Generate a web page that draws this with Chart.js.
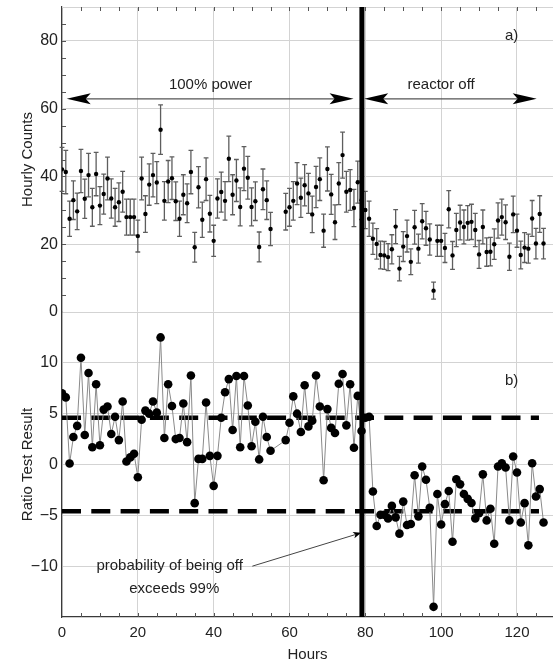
<!DOCTYPE html>
<html>
<head>
<meta charset="utf-8">
<script src="https://cdn.jsdelivr.net/npm/chart.js@4.4.1/dist/chart.umd.min.js"></script>
<style>
  html, body { margin: 0; padding: 0; background: #ffffff; }
  #wrap { width: 553px; height: 667px; }
</style>
</head>
<body>
<div id="wrap"><canvas id="c" width="553" height="667"></canvas></div>
<script>
// Hour index of each measurement
const hours = [
  0,1,2,3,4,5,6,7,8,9,10,11,12,13,14,15,16,17,18,19,
  20,21,22,23,24,25,26,27,28,29,30,31,32,33,34,35,36,37,38,39,
  40,41,42,43,44,45,46,47,48,49,50,51,52,53,54,55,56,57,58,59,
  60,61,62,63,64,65,66,67,68,69,70,71,72,73,74,75,76,77,78,79,
  80,81,82,83,84,85,86,87,88,89,90,91,92,93,94,95,96,97,98,99,
  100,101,102,103,104,105,106,107,108,109,110,111,112,113,114,115,116,117,118,119,
  120,121,122,123,124,125,126,127
];

// a) hourly counts (hours 56-58 missing)
const counts = [
  42.1,41.3,27.5,33.0,29.7,41.6,33.4,40.4,30.9,40.7,31.4,34.8,39.4,33.5,30.9,32.4,35.5,28.0,28.0,28.0,
  22.4,39.4,28.9,37.6,40.4,38.2,53.8,32.8,38.5,39.5,32.7,27.5,34.6,32.1,41.3,19.1,36.8,27.2,39.2,29.0,
  21.0,33.5,35.4,32.8,45.2,34.6,38.8,31.0,42.3,39.6,31.0,32.7,19.2,36.2,33.0,24.5,null,null,null,29.6,
  30.9,32.8,37.9,33.7,37.4,35.0,28.8,36.9,39.2,24.0,42.2,34.7,26.5,37.9,46.3,35.5,36.0,30.7,38.3,33.0,
  30.1,27.5,21.6,20.1,16.8,16.7,16.2,18.5,25.2,12.8,19.3,22.4,14.8,25.0,18.7,26.8,24.7,21.4,6.3,21.0,
  21.0,18.9,30.3,16.7,24.2,26.4,25.1,26.3,26.6,24.2,17.0,25.1,17.7,17.8,20.0,27.0,28.0,26.5,16.3,28.8,
  24.0,16.8,19.0,18.7,27.6,20.2,28.9,20.2
];

// a) half-length of each error bar
const countErr = [
  6.5,6.4,5.2,5.7,5.4,6.4,5.8,6.4,5.6,6.4,5.6,5.9,6.3,5.8,5.6,5.7,6.0,5.3,5.3,5.3,
  4.7,6.3,5.4,6.1,6.4,6.2,7.3,5.7,6.2,6.3,5.7,5.2,5.9,5.7,6.4,4.4,6.1,5.2,6.3,5.4,
  4.6,5.8,5.9,5.7,6.7,5.9,6.2,5.6,6.5,6.3,5.6,5.7,4.4,6.0,5.7,4.9,null,null,null,5.4,
  5.6,5.7,6.2,5.8,6.1,5.9,5.4,6.1,6.3,4.9,6.5,5.9,5.1,6.2,6.8,6.0,6.0,5.5,6.2,5.7,
  5.5,5.2,4.6,4.5,4.1,4.1,4.0,4.3,5.0,3.6,4.4,4.7,3.8,5.0,4.3,5.2,5.0,4.6,2.5,4.6,
  4.6,4.3,5.5,4.1,4.9,5.1,5.0,5.1,5.2,4.9,4.1,5.0,4.2,4.2,4.5,5.2,5.3,5.1,4.0,5.4,
  4.9,4.1,4.4,4.3,5.3,4.5,5.4,4.5
];

// b) ratio test result
const ratio = [
  7.0,6.6,0.1,2.7,3.8,10.5,2.9,9.0,1.7,7.9,1.9,5.4,5.7,3.0,4.7,2.4,6.2,0.3,0.7,1.05,
  -1.25,4.4,5.3,5.0,6.2,5.1,12.5,2.6,7.9,5.75,2.5,2.6,6.0,2.2,8.75,-3.8,0.55,0.55,6.1,0.85,
  -2.1,0.85,4.6,7.1,8.4,3.4,8.7,1.7,8.7,5.8,1.8,4.2,0.5,4.7,2.7,1.35,null,null,null,2.4,
  4.1,6.7,5.0,3.2,7.8,3.75,4.3,8.75,5.7,-1.55,5.45,3.6,3.1,7.95,8.9,3.85,7.9,1.65,6.75,3.3,
  4.6,4.7,-2.65,-6.05,-4.95,-4.95,-5.3,-4.07,-5.2,-6.8,-3.65,-5.95,-5.85,-1.05,-5.1,-0.2,-1.5,-4.25,-14.0,-2.9,
  -5.9,-3.9,-2.6,-7.6,-1.45,-1.95,-2.9,-3.38,-3.78,-5.3,-4.8,-0.97,-5.5,-4.35,-7.8,-0.2,0.12,-0.3,-5.5,0.78,
  -0.78,-5.7,-3.8,-7.95,0.12,-3.15,-2.42,-5.7
];

// 99% decision thresholds of the ratio test, drawn over hours 0 to 125.8
const thresholds = [4.6, -4.6];
const thresholdSpan = [0, 125.8];

// hour at which the reactor was switched off
const reactorOffHour = 79.1;

// tick labels
const hourTicks = [0, 20, 40, 60, 80, 100, 120];
const countTicks = [0, 20, 40, 60, 80];
const ratioTicks = [-10, -5, 0, 5, 10];

const FONT = '"Liberation Sans", Arial, Helvetica, sans-serif';
const INK = '#222222';
const GRID = '#d3d3d3';
const AXIS = '#3a3a3a';

const toPoints = ys => hours.map((h, i) => ({ x: h, y: ys[i] }));
const signed = v => (v < 0 ? '\u2212' + Math.abs(v) : String(v));

function arrowHead(ctx, tx, ty, ang, len, half, notch) {
  ctx.save();
  ctx.translate(tx, ty);
  ctx.rotate(ang);
  ctx.beginPath();
  ctx.moveTo(0, 0);
  ctx.lineTo(-len, -half);
  ctx.lineTo(-len + notch, 0);
  ctx.lineTo(-len, half);
  ctx.closePath();
  ctx.fill();
  ctx.restore();
}

// keep the plot box fixed: no extra room reserved for edge labels
function fitVertical(s) {
  s.width = 62;
  s.paddingTop = 0;
  s.paddingBottom = 0;
}
function fitHorizontal(s) {
  s.height = 50;
  s.paddingLeft = 0;
  s.paddingRight = 0;
}

// vertical error bars with caps for the hourly counts
const errorBars = {
  id: 'errorBars',
  beforeDatasetsDraw(chart) {
    const { ctx } = chart;
    const sx = chart.scales.x, sy = chart.scales.yTop;
    ctx.save();
    ctx.strokeStyle = '#5e5e5e';
    ctx.lineWidth = 1.3;
    hours.forEach((h, i) => {
      const v = counts[i], e = countErr[i];
      if (v == null) return;
      const px = sx.getPixelForValue(h);
      const lo = sy.getPixelForValue(v - e), hi = sy.getPixelForValue(v + e);
      ctx.beginPath();
      ctx.moveTo(px, lo); ctx.lineTo(px, hi);
      ctx.moveTo(px - 2.4, lo); ctx.lineTo(px + 2.4, lo);
      ctx.moveTo(px - 2.4, hi); ctx.lineTo(px + 2.4, hi);
      ctx.stroke();
    });
    ctx.restore();
  }
};

// frame top line and small inward ticks
const frameTicks = {
  id: 'frameTicks',
  beforeDatasetsDraw(chart) {
    const { ctx, chartArea: a } = chart;
    const sx = chart.scales.x, st = chart.scales.yTop;
    ctx.save();
    ctx.strokeStyle = GRID;
    ctx.lineWidth = 1;
    ctx.beginPath();
    ctx.moveTo(a.left, a.top + 0.5); ctx.lineTo(a.right, a.top + 0.5);
    ctx.stroke();
    ctx.strokeStyle = '#555';
    ctx.lineWidth = 1;
    ctx.beginPath();
    for (let h = 5; h <= 125; h += 5) {
      const px = Math.round(sx.getPixelForValue(h)) + 0.5;
      ctx.moveTo(px, a.top); ctx.lineTo(px, a.top + 4);
      ctx.moveTo(px, a.bottom); ctx.lineTo(px, a.bottom - 4);
    }
    for (let c = 5; c < 90; c += 5) {
      const py = Math.round(st.getPixelForValue(c)) + 0.5;
      ctx.moveTo(a.left, py); ctx.lineTo(a.left + 4, py);
    }
    ctx.stroke();
    ctx.restore();
  }
};

// reactor-off marker, arrows and annotations
const annotations = {
  id: 'annotations',
  afterDatasetsDraw(chart) {
    const { ctx, chartArea: a } = chart;
    const sx = chart.scales.x, st = chart.scales.yTop, sb = chart.scales.yBot;
    const X = v => sx.getPixelForValue(v);

    ctx.save();
    // reactor switched off
    ctx.fillStyle = '#000';
    const xl = X(reactorOffHour);
    ctx.fillRect(xl - 2.5, a.top, 5, a.bottom - a.top);

    // period arrows
    const ya = st.getPixelForValue(62.9);
    ctx.strokeStyle = '#555';
    ctx.lineWidth = 1.2;
    ctx.beginPath();
    ctx.moveTo(X(1.24) + 10, ya); ctx.lineTo(X(76.9) - 10, ya);
    ctx.moveTo(X(79.7) + 10, ya); ctx.lineTo(X(125.2) - 10, ya);
    ctx.stroke();
    ctx.fillStyle = '#000';
    arrowHead(ctx, X(1.24), ya, Math.PI, 24, 5.5, 5);
    arrowHead(ctx, X(76.9), ya, 0, 24, 5.5, 5);
    arrowHead(ctx, X(79.7), ya, Math.PI, 24, 5.5, 5);
    arrowHead(ctx, X(125.2), ya, 0, 24, 5.5, 5);

    ctx.fillStyle = INK;
    ctx.font = '15px ' + FONT;
    ctx.textAlign = 'center';
    ctx.textBaseline = 'middle';
    ctx.fillText('100% power', X(39.2), st.getPixelForValue(66.9));
    ctx.fillText('reactor off', X(100), st.getPixelForValue(66.9));
    ctx.fillText('a)', X(118.6), st.getPixelForValue(81.6));
    ctx.fillText('b)', X(118.6), sb.getPixelForValue(8.25));

    ctx.fillText('probability of being off', X(28.4), sb.getPixelForValue(-10.0));
    ctx.fillText('exceeds 99%', X(29.6), sb.getPixelForValue(-12.2));

    // pointer to the first hour past the threshold
    const x0 = X(50.2), y0 = sb.getPixelForValue(-10.0);
    const x1 = X(78.9), y1 = sb.getPixelForValue(-6.72);
    const ang = Math.atan2(y1 - y0, x1 - x0);
    ctx.strokeStyle = '#444';
    ctx.lineWidth = 1;
    ctx.beginPath();
    ctx.moveTo(x0, y0);
    ctx.lineTo(x1 - 6 * Math.cos(ang), y1 - 6 * Math.sin(ang));
    ctx.stroke();
    ctx.fillStyle = '#000';
    arrowHead(ctx, x1, y1, ang, 8, 3.2, 2);
    ctx.restore();
  }
};

const thresholdSet = y => ({
  type: 'line',
  yAxisID: 'yBot',
  data: thresholdSpan.map(x => ({ x, y })),
  borderColor: '#000',
  borderWidth: 4.5,
  borderDash: [19, 10.3],
  borderCapStyle: 'butt',
  pointRadius: 0,
  fill: false
});

new Chart(document.getElementById('c'), {
  type: 'scatter',
  data: {
    datasets: [
      {
        type: 'line',
        yAxisID: 'yBot',
        data: toPoints(ratio),
        borderColor: '#8a8a8a',
        borderWidth: 1,
        spanGaps: true,
        pointRadius: 4.3,
        pointBackgroundColor: '#000',
        pointBorderWidth: 0,
        tension: 0,
        fill: false
      },
      {
        type: 'scatter',
        yAxisID: 'yTop',
        data: toPoints(counts),
        pointRadius: 2.2,
        pointBackgroundColor: '#000',
        pointBorderWidth: 0
      },
      thresholdSet(thresholds[0]),
      thresholdSet(thresholds[1])
    ]
  },
  options: {
    responsive: false,
    animation: false,
    layout: { autoPadding: false, padding: { top: 7, right: 0, left: 0, bottom: 0 } },
    plugins: { legend: { display: false }, tooltip: { enabled: false } },
    scales: {
      x: {
        type: 'linear',
        min: 0,
        max: 129.5,
        afterBuildTicks: s => { s.ticks = hourTicks.map(value => ({ value })); },
        afterFit: fitHorizontal,
        grid: { color: GRID, lineWidth: 1, drawTicks: false },
        border: { color: AXIS, width: 1.2 },
        ticks: { padding: 7, color: INK, maxRotation: 0, font: { family: FONT, size: 15 } },
        title: { display: true, text: 'Hours', color: INK, font: { family: FONT, size: 15 }, padding: { top: 0, bottom: 3 } }
      },
      yTop: {
        type: 'linear',
        position: 'left',
        stack: 'panels',
        stackWeight: 1,
        weight: 1,
        min: 0,
        max: 90,
        afterBuildTicks: s => { s.ticks = countTicks.map(value => ({ value })); },
        afterFit: fitVertical,
        grid: { color: GRID, lineWidth: 1, drawTicks: false },
        border: { color: AXIS, width: 1.2 },
        ticks: { padding: 4, color: INK, font: { family: FONT, size: 16 }, callback: signed },
        title: { display: true, text: 'Hourly Counts', color: INK, font: { family: FONT, size: 15 }, padding: { top: 19, bottom: 0 } }
      },
      yBot: {
        type: 'linear',
        position: 'left',
        stack: 'panels',
        stackWeight: 1,
        weight: 0,
        min: -15,
        max: 15,
        afterBuildTicks: s => { s.ticks = ratioTicks.map(value => ({ value })); },
        afterFit: fitVertical,
        grid: { color: GRID, lineWidth: 1, drawTicks: false },
        border: { color: AXIS, width: 1.2 },
        ticks: { padding: 4, color: INK, font: { family: FONT, size: 16 }, callback: signed },
        title: { display: true, text: 'Ratio Test Result', color: INK, font: { family: FONT, size: 15 }, padding: { top: 19, bottom: 0 } }
      }
    }
  },
  plugins: [frameTicks, errorBars, annotations]
});
</script>
</body>
</html>
